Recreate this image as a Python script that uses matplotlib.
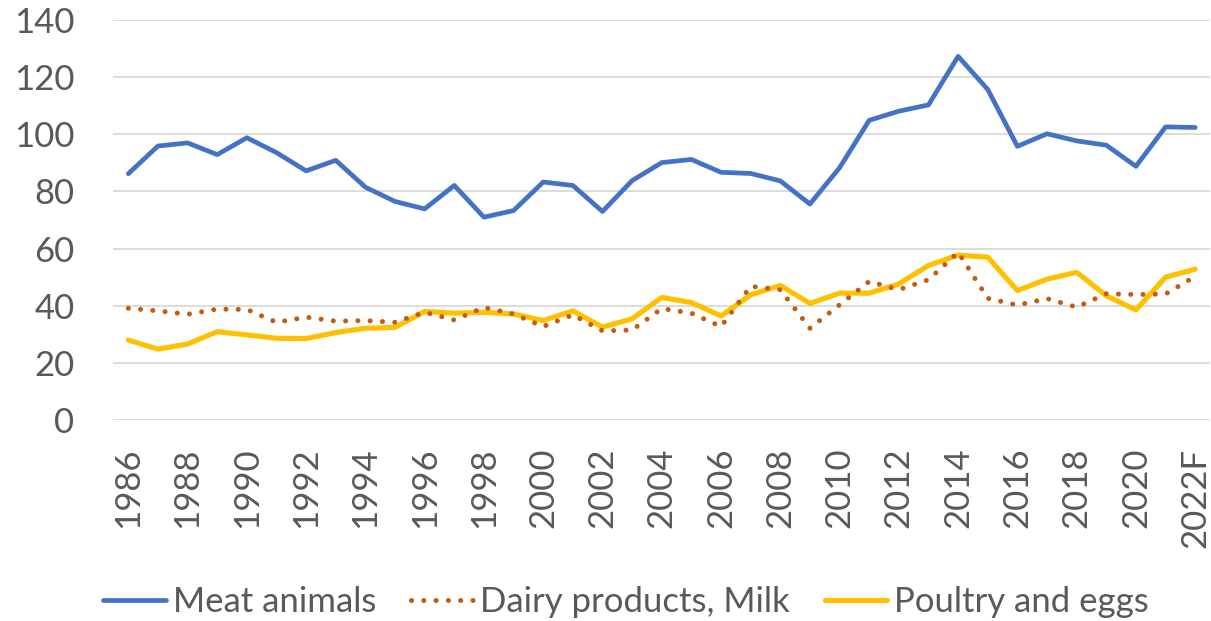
import matplotlib.pyplot as plt
import numpy as np

plt.rcParams['font.family'] = ['Lato', 'DejaVu Sans']

# data
years = [str(y) for y in range(1986, 2022)] + ['2022F']
meat = [86.2, 95.9, 97.0, 92.9, 98.8, 93.6, 87.2, 90.9, 81.5, 76.5,
        73.9, 82.1, 71.0, 73.3, 83.3, 82.1, 73.0, 83.8, 90.1, 91.2,
        86.7, 86.3, 83.7, 75.6, 88.3, 104.9, 108.1, 110.3, 127.3, 115.7,
        95.8, 100.2, 97.7, 96.2, 88.8, 102.6, 102.4]
dairy = [39.1, 38.2, 37.0, 38.8, 38.7, 34.2, 36.0, 34.6, 34.8, 34.2,
         37.7, 35.0, 39.4, 37.1, 32.7, 36.8, 31.2, 31.5, 39.0, 37.4,
         32.7, 46.8, 45.6, 32.1, 40.3, 48.5, 45.6, 49.1, 58.7, 42.6,
         40.2, 42.5, 39.5, 44.2, 43.9, 44.1, 50.3]
poultry = [28.0, 24.8, 26.6, 30.9, 29.8, 28.6, 28.5, 30.6, 32.1, 32.4,
           38.0, 37.4, 37.7, 37.1, 34.8, 38.2, 32.5, 35.4, 42.9, 41.1,
           36.4, 43.8, 47.1, 40.8, 44.4, 44.4, 47.6, 54.1, 57.7, 57.0,
           45.3, 49.3, 51.7, 43.5, 38.5, 50.0, 52.8]

fig = plt.figure(figsize=(12.11, 6.21), dpi=100)
ax = fig.add_axes([0.0937, 0.3237, 0.9055, 0.644])

x = np.arange(len(years))
ax.plot(x, meat, color='#4472C4', lw=3.4, solid_joinstyle='round',
        solid_capstyle='round', label='Meat animals', zorder=3)
ax.plot(x, dairy, color='#C55A11', lw=3.6, linestyle=(0, (0.01, 2.45)),
        dash_capstyle='round', label='Dairy products, Milk', zorder=4)
ax.plot(x, poultry, color='#FFC000', lw=3.7, solid_joinstyle='round',
        solid_capstyle='round', label='Poultry and eggs', zorder=3)

ax.set_xlim(-0.5, len(years) - 0.5)
ax.set_ylim(0, 140)
ax.set_yticks(range(0, 141, 20))
ax.set_xticks(x[::2])
ax.set_xticklabels(years[::2], rotation=90)

ax.grid(axis='y', color='#D9D9D9', lw=1.3)
ax.set_axisbelow(True)
for s in ax.spines.values():
    s.set_visible(False)
ax.tick_params(axis='y', length=0, pad=28, labelsize=25, labelcolor='#595959')
ax.tick_params(axis='x', length=0, pad=20, labelsize=25, labelcolor='#595959')

fig.legend(loc='center', bbox_to_anchor=(0.517, 0.031), ncol=3, frameon=False,
           fontsize=25, labelcolor='#595959', handlelength=1.8,
           handletextpad=0.2, columnspacing=1.0)

fig.savefig('out.png', dpi=100, facecolor='white')
